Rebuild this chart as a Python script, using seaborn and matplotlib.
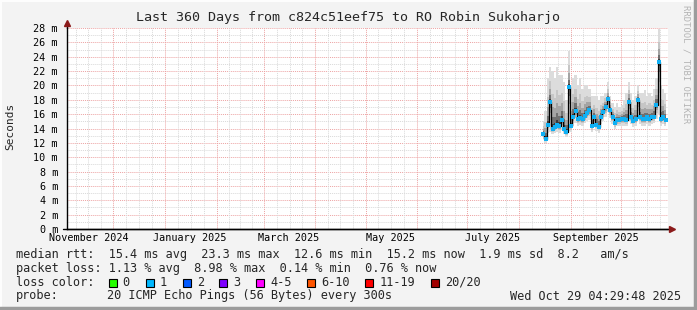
import matplotlib
matplotlib.use("Agg")
import matplotlib.pyplot as plt
import seaborn as sns
import numpy as np
import pandas as pd

# ---------------- data ----------------
median_ms = [13.3, 12.6, 14.5, 17.7, 14.0, 14.25, 14.5, 14.35, 15.2, 14.0,
             13.55, 19.8, 14.35, 15.6, 16.5, 15.3, 15.4, 15.3, 15.8, 16.2,
             16.6, 14.35, 15.55, 14.5, 14.25, 15.6, 16.3, 16.95, 18.1, 16.6,
             15.6, 14.8, 15.2, 15.2, 15.3, 15.3, 15.2, 17.7, 15.6, 15.1,
             15.3, 18.0, 15.6, 15.3, 15.3, 15.6, 15.3, 15.6, 15.6, 17.3,
             23.3, 15.3, 15.6, 15.2]
smoke_hi = [15.0, 16.5, 21.0, 22.5, 22.0, 21.0, 22.5, 21.5, 21.5, 20.5,
            18.0, 24.8, 20.0, 21.0, 21.5, 20.0, 21.0, 19.5, 20.0, 20.0,
            19.5, 18.5, 18.5, 18.5, 18.0, 18.5, 18.5, 19.0, 20.5, 18.5,
            17.5, 17.0, 17.5, 17.0, 17.3, 18.0, 19.0, 20.5, 19.0, 18.0,
            18.5, 20.0, 19.0, 19.0, 19.3, 18.5, 19.0, 18.5, 19.5, 21.0,
            27.8, 20.0, 19.5, 19.0]
smoke_lo = [12.6, 12.0, 13.4, 13.5, 13.2, 13.4, 13.5, 13.4, 13.9, 13.2,
            12.8, 13.6, 13.5, 14.3, 14.8, 14.4, 14.5, 14.4, 14.8, 15.0,
            15.2, 13.5, 14.3, 13.7, 13.4, 14.6, 15.1, 15.6, 16.3, 15.4,
            14.6, 13.9, 14.3, 14.3, 14.4, 14.4, 14.3, 15.0, 14.6, 14.2,
            14.4, 15.3, 14.6, 14.4, 14.4, 14.6, 14.4, 14.6, 14.7, 15.3,
            16.0, 14.4, 14.6, 14.3]
sample_start = "2025-08-15 12:00"
sample_end = "2025-10-27 18:00"

title = "Last 360 Days from c824c51eef75 to RO Robin Sukoharjo"
y_ticks = [0, 2, 4, 6, 8, 10, 12, 14, 16, 18, 20, 22, 24, 26, 28]
x_label_months = ["2024-11-01", "2025-01-01", "2025-03-01", "2025-05-01",
                  "2025-07-01", "2025-09-01"]
x_label_texts = ["November 2024", "January 2025", "March 2025", "May 2025",
                 "July 2025", "September 2025"]
end_time = pd.Timestamp("2025-10-29 04:29:48")
span_days = 360

legend_rtt = "median rtt:  15.4 ms avg  23.3 ms max  12.6 ms min  15.2 ms now  1.9 ms sd  8.2   am/s"
legend_loss = "packet loss: 1.13 % avg  8.98 % max  0.14 % min  0.76 % now"
loss_labels = ["0", "1", "2", "3", "4-5", "6-10", "11-19", "20/20"]
loss_colors = ["#26ff00", "#00b8ff", "#0059ff", "#7e00ff", "#ff00ff",
               "#ff5500", "#ff0000", "#a10000"]
probe_text = "20 ICMP Echo Pings (56 Bytes) every 300s"
stamp_text = "Wed Oct 29 04:29:48 2025"

# ---------------- figure ----------------
sns.set_style("white")
plt.rcParams["font.family"] = ["DejaVu Sans Mono", "DejaVu Sans"]

W, H = 697, 310
fig = plt.figure(figsize=(W / 100, H / 100), dpi=100)
fig.patch.set_facecolor("#f3f3f3")

def fx(x):
    return x / W

def fy(y):
    return 1 - y / H

L, R, T, B = 67, 668, 28, 229
ax = fig.add_axes([fx(L), fy(B), (R - L) / W, (B - T) / H])
ax.set_facecolor("white")

start_time = end_time - pd.Timedelta(days=span_days)
ax.set_xlim(start_time, end_time)
ax.set_ylim(0, 28)

# grid
major_c = "#eda3a3"
minor_c = "#d9d9d9"
for v in np.arange(1, 28, 2):
    ax.axhline(v, color=minor_c, lw=0.7, ls=(0, (1, 1)), zorder=0)
for v in y_ticks[1:]:
    ax.axhline(v, color=major_c, lw=0.7, ls=(0, (1, 1)), zorder=0)
months = pd.date_range("2024-11-01", "2025-11-01", freq="MS")
for a, b in zip(months[:-1], months[1:]):
    step = (b - a) / 4
    for k in (1, 2, 3):
        t = a + step * k
        if start_time < t < end_time:
            ax.axvline(t, color=minor_c, lw=0.7, ls=(0, (1, 1)), zorder=0)
for m in months:
    if start_time < m < end_time:
        ax.axvline(m, color=major_c, lw=0.7, ls=(0, (1, 1)), zorder=0)

# data frame
dates = pd.date_range(sample_start, sample_end, periods=len(median_ms))
df = pd.DataFrame({"date": dates, "median": median_ms,
                   "hi": smoke_hi, "lo": smoke_lo})
med = df["median"].to_numpy()
hi = df["hi"].to_numpy()
lo = df["lo"].to_numpy()

# smoke
layers = [(1.0, "#dcdcdc"), (0.6, "#c6c6c6"), (0.38, "#a4a4a4"),
          (0.2, "#707070"), (0.08, "#3a3a3a")]
for f, c in layers:
    ax.fill_between(df["date"], med - (med - lo) * f, med + (hi - med) * f,
                    step="mid", color=c, lw=0, zorder=2)

# median line and loss-colored points
sns.lineplot(data=df, x="date", y="median", ax=ax, color="black", lw=0.9,
             drawstyle="steps-mid", zorder=3)
sns.scatterplot(data=df, x="date", y="median", ax=ax, color="#10b0f4",
                marker="s", s=4.8, linewidth=0, zorder=4)

# axes
for s in ["top", "right"]:
    ax.spines[s].set_visible(False)
for s in ["left", "bottom"]:
    ax.spines[s].set_color("black")
    ax.spines[s].set_linewidth(1.0)
ax.set_xlabel("")
ax.set_ylabel("")
ax.set_yticks(y_ticks)
ax.set_yticklabels([f"{v} m" for v in y_ticks], fontsize=7.3)
ax.tick_params(axis="y", length=2, width=0.8, pad=4.5, colors="black")
label_pos = [pd.Timestamp(m) + pd.Timedelta(days=15) for m in x_label_months]
ax.set_xticks(label_pos)
ax.set_xticklabels(x_label_texts, fontsize=7.3)
ax.tick_params(axis="x", length=0, pad=3, colors="black")

# arrows
ax.plot([0], [1.025], marker="^", color="#8b1a1a", ms=4.5, transform=ax.transAxes,
        clip_on=False, zorder=6)
ax.plot([1.007], [0], marker=">", color="#8b1a1a", ms=4.5, transform=ax.transAxes,
        clip_on=False, zorder=6)
ax.plot([0, 0], [1.0, 1.025], color="black", lw=1.0, transform=ax.transAxes,
        clip_on=False, zorder=5)
ax.plot([-0.006, 1.0], [0, 0], color="black", lw=1.0, transform=ax.transAxes,
        clip_on=False, zorder=5)

# texts
fig.text(0.5, fy(18), title, ha="center", va="center", fontsize=9.6)
fig.text(fx(10), fy(126), "Seconds", rotation=90, ha="center", va="center",
         fontsize=8)
fig.text(fx(686), fy(5), "RRDTOOL / TOBI OETIKER", rotation=270, ha="center",
         va="top", fontsize=6.4, color="#b4b4b4")

lf = 8.55
fig.text(fx(16), fy(254.5), legend_rtt, ha="left", va="center", fontsize=lf)
fig.text(fx(16), fy(268.5), legend_loss, ha="left", va="center", fontsize=lf)
fig.text(fx(16), fy(282.3), "loss color:", ha="left", va="center", fontsize=lf)
box_x = [108.7, 145.7, 182.7, 219.3, 256.0, 307.3, 365.3, 430.7]
for bx, lab, col in zip(box_x, loss_labels, loss_colors):
    fig.patches.append(plt.Rectangle((fx(bx), fy(286.5)), 8 / W, 8 / H,
                                     transform=fig.transFigure,
                                     facecolor=col, edgecolor="black", lw=0.8))
    fig.text(fx(bx + 14), fy(282.3), lab, ha="left", va="center", fontsize=lf)
fig.text(fx(16), fy(296), "probe:", ha="left", va="center", fontsize=lf)
fig.text(fx(107), fy(296), probe_text, ha="left", va="center", fontsize=lf)
fig.text(fx(681), fy(296), stamp_text, ha="right", va="center", fontsize=lf)

# 3D frame
fig.add_artist(plt.Line2D([0, 1], [fy(1), fy(1)], color="#fdfdfd", lw=1.5,
                          transform=fig.transFigure))
fig.add_artist(plt.Line2D([fx(1), fx(1)], [0, 1], color="#fdfdfd", lw=1.5,
                          transform=fig.transFigure))
fig.add_artist(plt.Line2D([fx(695), fx(695)], [0, 1], color="#9c9c9c", lw=2.5,
                          transform=fig.transFigure))
fig.add_artist(plt.Line2D([0, 1], [fy(308), fy(308)], color="#9c9c9c", lw=2.5,
                          transform=fig.transFigure))

fig.savefig("out.png", dpi=100, facecolor=fig.get_facecolor())
